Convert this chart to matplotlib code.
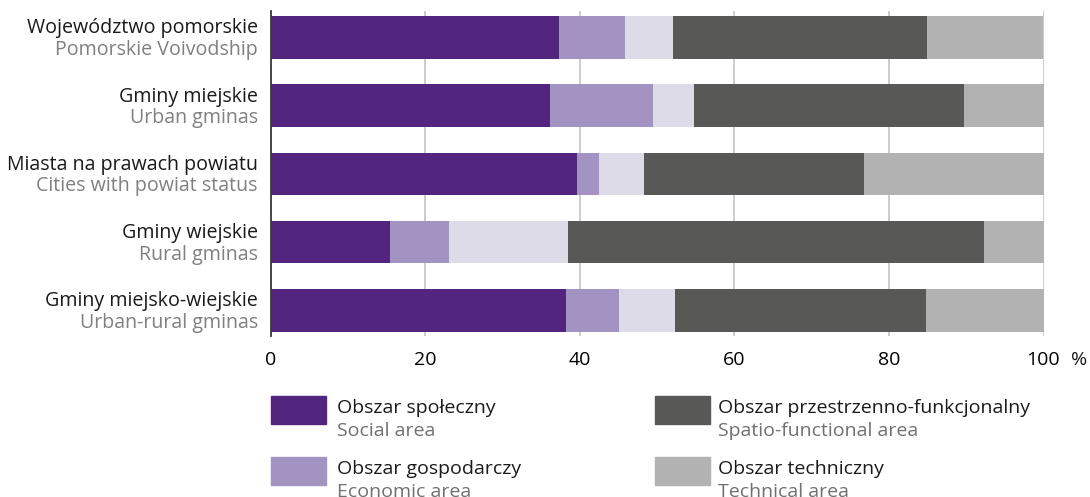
import matplotlib
matplotlib.use("Agg")
import matplotlib.pyplot as plt
from matplotlib.patches import Rectangle
import numpy as np

plt.rcParams['font.family'] = ['Open Sans', 'DejaVu Sans']

# Unit groups: Polish name and English name
groups_pl = ["Województwo pomorskie", "Gminy miejskie", "Miasta na prawach powiatu",
             "Gminy wiejskie", "Gminy miejsko-wiejskie"]
groups_en = ["Pomorskie Voivodship", "Urban gminas", "Cities with powiat status",
             "Rural gminas", "Urban-rural gminas"]

# Share of each area, %
social = [37.3, 36.1, 39.6, 15.4, 38.2]
economic = [8.5, 13.3, 2.9, 7.6, 6.9]
third_area = [6.3, 5.3, 5.8, 15.4, 7.2]
spatial = [32.8, 35.0, 28.5, 53.9, 32.5]
technical = [15.1, 10.3, 23.2, 7.7, 15.2]

x_ticks = [0, 20, 40, 60, 80, 100]

series = [social, economic, third_area, spatial, technical]
colors = ["#52267f", "#a393c2", "#dddbe8", "#585857", "#b2b2b2"]

legend_pl = ["Obszar społeczny", "Obszar gospodarczy",
             "Obszar przestrzenno-funkcjonalny", "Obszar techniczny"]
legend_en = ["Social area", "Economic area",
             "Spatio-functional area", "Technical area"]
legend_colors = [colors[0], colors[1], colors[3], colors[4]]

W, H = 1090, 497
fig = plt.figure(figsize=(W / 100, H / 100), dpi=100)
ax = fig.add_axes([270.9 / W, 1 - 336 / H, 772.6 / W, 325 / H])

y = np.arange(len(groups_pl))
left = np.zeros(len(y))
for vals, c in zip(series, colors):
    ax.barh(y, vals, left=left, height=0.626, color=c, zorder=3)
    left += np.array(vals)

ax.set_xlim(0, 100)
ax.set_ylim(4.377, -0.389)
ax.set_xticks(x_ticks)
ax.set_xticklabels([str(t) for t in x_ticks], fontsize=14)
ax.tick_params(axis='x', length=0, pad=10.5)
ax.set_yticks([])
ax.grid(axis='x', color='#c4c4c4', lw=1.2, zorder=0)
for s in ['top', 'right', 'bottom']:
    ax.spines[s].set_visible(False)
ax.spines['left'].set_color('#3a3a3a')
ax.spines['left'].set_linewidth(1.3)
ax.spines['left'].set_zorder(4)

# two-line category labels
for i in y:
    ax.annotate(groups_pl[i], xy=(0, i), xycoords=ax.get_yaxis_transform(),
                xytext=(-13, 4.2), textcoords='offset pixels',
                ha='right', va='baseline', fontsize=14.1, color='#1a1a1a')
    ax.annotate(groups_en[i], xy=(0, i), xycoords=ax.get_yaxis_transform(),
                xytext=(-13, -17.5), textcoords='offset pixels',
                ha='right', va='baseline', fontsize=14.1, color='#808080')

fig.text(1071 / W, 1 - 365 / H, "%", fontsize=14, va='baseline', color='#1a1a1a')

# legend drawn by hand, two columns
sw_x = [271, 271, 655, 655]
sw_top = [396, 456.7, 396, 456.7]
txt_x = [337, 337, 718, 718]
for k in range(4):
    fig.add_artist(Rectangle((sw_x[k] / W, 1 - (sw_top[k] + 28) / H), 55 / W, 28 / H,
                             transform=fig.transFigure, color=legend_colors[k]))
    fig.text(txt_x[k] / W, 1 - (sw_top[k] + 17.3) / H, legend_pl[k],
             fontsize=14, va='baseline', color='#1a1a1a')
    fig.text(txt_x[k] / W, 1 - (sw_top[k] + 40.5) / H, legend_en[k],
             fontsize=14, va='baseline', color='#707070')

fig.savefig("out.png", dpi=100)
